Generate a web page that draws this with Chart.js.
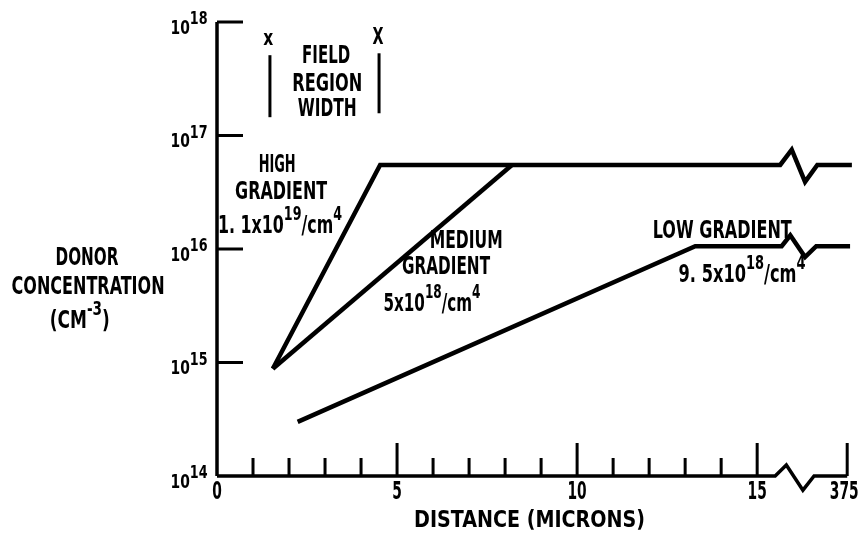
<!DOCTYPE html>
<html>
<head>
<meta charset="utf-8">
<script src="https://cdn.jsdelivr.net/npm/chart.js@4.4.1/dist/chart.umd.min.js"></script>
<style>
  html, body { margin: 0; padding: 0; background: #fff; }
</style>
</head>
<body>
<canvas id="chart" width="863" height="535"></canvas>
<script>
// ---- data ----
const xTickValues = [0, 5, 10, 15, 17.5];
const xTickLabels = ['0', '5', '10', '15', '375'];
const xMajorTicks = [5, 10, 15, 17.5];
const xMinorTicks = [1, 2, 3, 4, 6, 7, 8, 9, 11, 12, 13, 14];
const yDecades = [1e14, 1e15, 1e16, 1e17, 1e18];
const yExponents = ['14', '15', '16', '17', '18'];

// high gradient, with the break zigzag at the right
const highX = [1.55, 4.53, 15.64, 15.96, 16.33, 16.67, 17.63];
const highY = [8.8e14, 5.5e16, 5.5e16, 7.5e16, 3.9e16, 5.5e16, 5.5e16];
// medium gradient
const mediumX = [1.55, 8.19];
const mediumY = [8.8e14, 5.5e16];
// low gradient, with the break zigzag
const lowX = [2.24, 13.28, 15.68, 15.92, 16.33, 16.64, 17.58];
const lowY = [3.0e14, 1.06e16, 1.06e16, 1.32e16, 8.5e15, 1.06e16, 1.06e16];
// x axis line with its break
const axisX = [0, 15.5, 15.81, 16.27, 16.58, 17.5];
const axisY = [1e14, 1e14, 1.25e14, 7.5e13, 1e14, 1e14];
// y axis line
const yAxisX = [0, 0];
const yAxisY = [1e14, 1e18];
// field region width markers
const fieldLeftX = [1.47, 1.47];
const fieldLeftY = [1.45e17, 5.1e17];
const fieldRightX = [4.5, 4.5];
const fieldRightY = [1.57e17, 5.3e17];

const FONT = "'DejaVu Sans Condensed', 'Liberation Sans Narrow', 'DejaVu Sans', sans-serif";

const toPts = (xs, ys) => xs.map((x, i) => ({ x: x, y: ys[i] }));

function line(xs, ys, width) {
    return {
        data: toPts(xs, ys),
        showLine: true,
        borderColor: '#000',
        borderWidth: width,
        pointRadius: 0,
        borderJoinStyle: 'miter',
        borderCapStyle: 'butt',
        tension: 0,
        clip: false
    };
}

// text labels: [text, superscript?]; w = width the label takes in the figure
const notes = [
    { x: 1.42, ly: 17.85, size: 22, w: 10, parts: [['x']] },
    { x: 4.47, ly: 17.86, size: 23, w: 11, parts: [['X']] },
    { x: 3.03, ly: 17.70, size: 25, w: 48, parts: [['FIELD']] },
    { x: 3.06, ly: 17.45, size: 25, w: 70, parts: [['REGION']] },
    { x: 3.06, ly: 17.23, size: 25, w: 59, parts: [['WIDTH']] },
    { x: 1.67, ly: 16.74, size: 25, w: 37, parts: [['HIGH']] },
    { x: 1.78, ly: 16.50, size: 25, w: 92, parts: [['GRADIENT']] },
    { x: 1.75, ly: 16.20, size: 25, w: 124, parts: [['1. 1x10'], ['19', 1], ['/cm'], ['4', 1]] },
    { x: 6.92, ly: 16.07, size: 25, w: 73, parts: [['MEDIUM']] },
    { x: 6.36, ly: 15.84, size: 25, w: 88, parts: [['GRADIENT']] },
    { x: 5.97, ly: 15.51, size: 25, w: 97, parts: [['5x10'], ['18', 1], ['/cm'], ['4', 1]] },
    { x: 14.03, ly: 16.15, size: 25, w: 139, parts: [['LOW GRADIENT']] },
    { x: 14.58, ly: 15.77, size: 25, w: 127, parts: [['9. 5x10'], ['18', 1], ['/cm'], ['4', 1]] },
    { x: -3.61, ly: 15.92, size: 25, w: 63, parts: [['DONOR']] },
    { x: -3.58, ly: 15.66, size: 25, w: 153, parts: [['CONCENTRATION']] },
    { x: -3.81, ly: 15.36, size: 25, w: 60, parts: [['(CM'], ['-3', 1], [')']] },
    { x: 8.68, ly: 13.60, size: 23, w: 231, parts: [['DISTANCE (MICRONS)']] }
];

// draws text pieces centred on (cx, cy), squeezed horizontally to fit width w
function richText(ctx, parts, cx, cy, size, w, supScale, supRaise) {
    let total = 0;
    const items = parts.map(p => {
        const s = p[1] ? size * supScale : size;
        ctx.font = `bold ${s}px ${FONT}`;
        const tw = ctx.measureText(p[0]).width;
        total += tw;
        return { t: p[0], s: s, w: tw, sup: p[1] };
    });
    const squeeze = w ? w / total : 0.7;
    let x = cx - total * squeeze / 2;
    items.forEach(it => {
        ctx.save();
        ctx.font = `bold ${it.s}px ${FONT}`;
        ctx.fillStyle = '#000';
        ctx.textBaseline = 'middle';
        ctx.textAlign = 'left';
        ctx.translate(x, cy - (it.sup ? size * supRaise : 0));
        ctx.scale(squeeze, 1);
        ctx.fillText(it.t, 0, 0);
        ctx.restore();
        x += it.w * squeeze;
    });
}

const decorations = {
    id: 'decorations',
    afterDatasetsDraw(chart) {
        const ctx = chart.ctx;
        const xs = chart.scales.x;
        const ys = chart.scales.y;
        const x0 = xs.getPixelForValue(0);
        const y0 = ys.getPixelForValue(1e14);

        // inward tick marks
        ctx.save();
        ctx.strokeStyle = '#000';
        ctx.lineWidth = 3;
        ctx.lineCap = 'butt';
        ctx.beginPath();
        xMinorTicks.forEach(v => {
            const px = xs.getPixelForValue(v);
            ctx.moveTo(px, y0);
            ctx.lineTo(px, y0 - 18);
        });
        xMajorTicks.forEach(v => {
            const px = xs.getPixelForValue(v);
            ctx.moveTo(px, y0);
            ctx.lineTo(px, y0 - 33);
        });
        yDecades.slice(1).forEach(v => {
            const py = ys.getPixelForValue(v);
            ctx.moveTo(x0, py);
            ctx.lineTo(x0 + 26, py);
        });
        ctx.stroke();
        ctx.restore();

        // y tick labels 10^n
        yDecades.forEach((v, i) => {
            const py = ys.getPixelForValue(v);
            richText(ctx, [['10'], [yExponents[i], 1]], x0 - 28, py + 7, 19, 37, 0.92, 0.5);
        });

        // x tick labels
        xTickValues.forEach((v, i) => {
            const px = xs.getPixelForValue(v);
            const lbl = xTickLabels[i];
            richText(ctx, [[lbl]], px - (i === 4 ? 3 : 0), y0 + 16, 25, lbl.length * 9.6, 1, 0);
        });

        // annotations and axis titles
        notes.forEach(n => {
            const px = xs.getPixelForValue(n.x);
            const py = ys.getPixelForValue(Math.pow(10, n.ly));
            richText(ctx, n.parts, px, py, n.size, n.w, 0.8, 0.46);
        });
    }
};

new Chart(document.getElementById('chart'), {
    type: 'scatter',
    data: {
        datasets: [
            line(yAxisX, yAxisY, 3.5),
            line(axisX, axisY, 3.5),
            line(highX, highY, 4.5),
            line(mediumX, mediumY, 4.5),
            line(lowX, lowY, 4.5),
            line(fieldLeftX, fieldLeftY, 3),
            line(fieldRightX, fieldRightY, 3)
        ]
    },
    options: {
        responsive: false,
        animation: false,
        devicePixelRatio: 1,
        layout: { padding: { left: 0, top: 22, right: 5, bottom: 0 } },
        plugins: {
            legend: { display: false },
            tooltip: { enabled: false }
        },
        scales: {
            x: {
                type: 'linear',
                min: 0,
                max: 17.8,
                grid: { display: false, drawTicks: false },
                border: { display: false },
                ticks: { display: false },
                afterFit: scale => { scale.height = 59; }
            },
            y: {
                type: 'logarithmic',
                min: 1e14,
                max: 1e18,
                grid: { display: false, drawTicks: false },
                border: { display: false },
                ticks: { display: false },
                afterFit: scale => { scale.width = 217; }
            }
        }
    },
    plugins: [decorations]
});
</script>
</body>
</html>
